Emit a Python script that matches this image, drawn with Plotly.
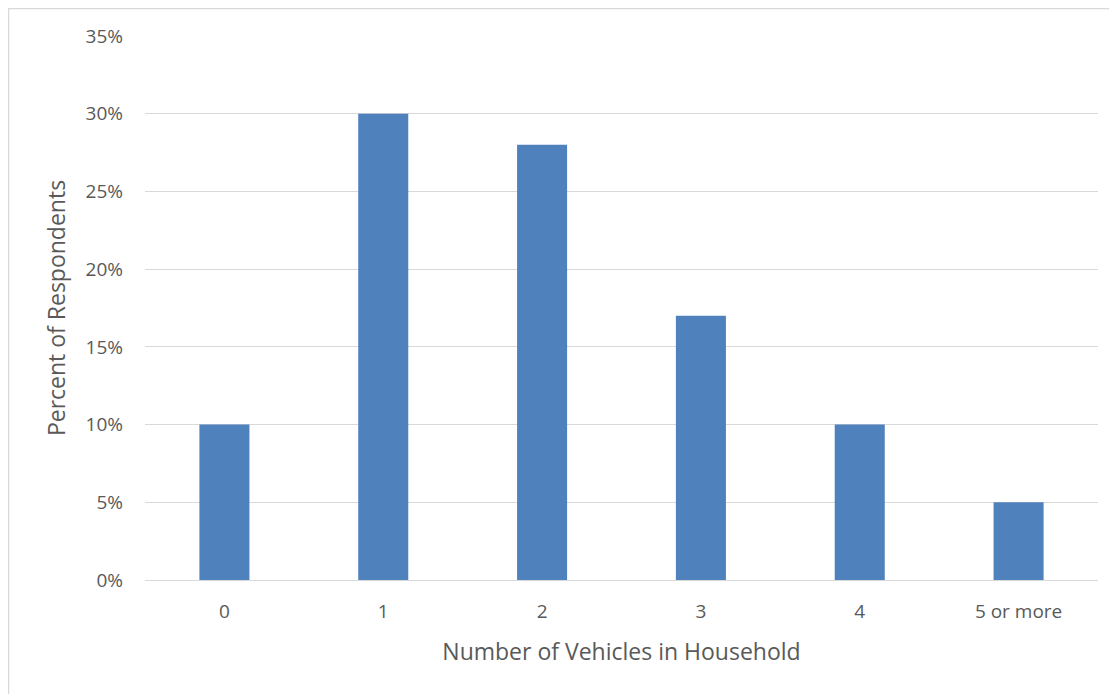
import plotly.graph_objects as go

categories = ["0", "1", "2", "3", "4", "5 or more"]
percent_values = [10, 30, 28, 17, 10, 5]
y_tick_values = [0, 5, 10, 15, 20, 25, 30, 35]
y_tick_labels = ["0%", "5%", "10%", "15%", "20%", "25%", "30%", "35%"]

# page has an 8px body margin, so the figure is drawn starting at (8, 8)
W, H = 1109, 686
L, R, T, B = 137, 19, 28, 114
pw, ph = W - L - R, H - T - B

fig = go.Figure(go.Bar(x=categories, y=percent_values, marker_color="#4f81bd",
                       marker_line_width=0))

font_family = "Open Sans, Noto Sans, sans-serif"
fig.update_layout(
    width=W, height=H,
    margin=dict(l=L, r=R, t=T, b=B),
    paper_bgcolor="white", plot_bgcolor="white",
    bargap=0.685,
    showlegend=False,
    font=dict(family=font_family, color="#595959"),
    xaxis=dict(
        tickfont=dict(size=19, color="#595959"),
        title=dict(text="Number of Vehicles in Household", font=dict(size=23, color="#595959"), standoff=20),
        showline=False, ticks="", showgrid=False,
        ticklabelstandoff=18,
    ),
    yaxis=dict(
        range=[0, 35], tickvals=y_tick_values, ticktext=y_tick_labels,
        tickfont=dict(size=19, color="#595959"),
        showgrid=True, gridcolor="#d9d9d9", gridwidth=1.3,
        zeroline=True, zerolinecolor="#d9d9d9", zerolinewidth=1.3,
        ticks="", ticklabelstandoff=21,
        title=dict(text="Percent of Respondents", font=dict(size=23, color="#595959"), standoff=13),
    ),
)

# outer chart border (partially cropped in the reference)
fig.add_shape(type="rect", xref="paper", yref="paper",
              x0=(0.5 - L) / pw, x1=(W + 20 - L) / pw,
              y0=-(B + 20) / ph, y1=(ph + T - 0.5) / ph,
              line=dict(color="#d9d9d9", width=1.5), fillcolor="rgba(0,0,0,0)", layer="below")

fig.write_html("out.html")
